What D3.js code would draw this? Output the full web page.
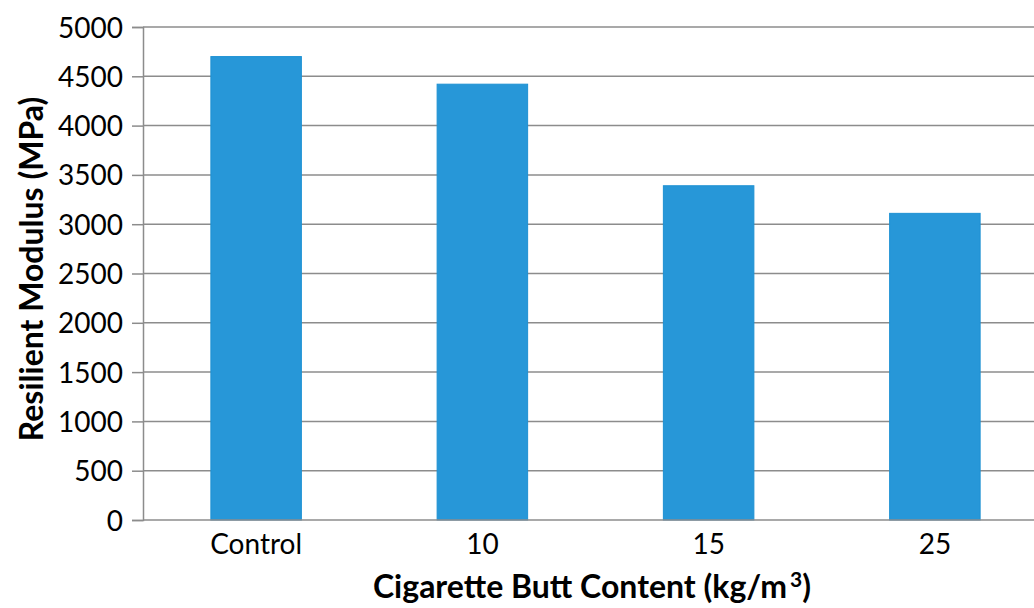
<!DOCTYPE html>
<html>
<head>
<meta charset="utf-8">
<script src="https://cdn.jsdelivr.net/npm/d3@7"></script>
<style>
  html, body { margin: 0; padding: 0; background: #ffffff; }
  svg { display: block; }
</style>
</head>
<body>
<svg id="chart" width="1034" height="608"></svg>
<script>
const categories = ["Control", "10", "15", "25"];
const values = [4700, 4420, 3390, 3110];
const yTicks = [0, 500, 1000, 1500, 2000, 2500, 3000, 3500, 4000, 4500, 5000];
const xTitleParts = ["Cigarette Butt Content (kg/m", "3", ")"];
const yTitle = "Resilient Modulus (MPa)";

(function () {
const svg = d3.select("#chart");
const W = 1034;
const mLeft = 143, mRight = 1048, mTop = 27, mBottom = 520;
const gridColor = "#8c8c8c";
const font = "Lato, 'Open Sans', sans-serif";

const x = d3.scaleBand().domain(categories).range([mLeft, mRight])
  .paddingInner(0.6).paddingOuter(0.3);
const y = d3.scaleLinear().domain([0, 5000]).range([mBottom, mTop]);

// gridlines + y ticks
const yAxis = d3.axisLeft(y).tickValues(yTicks).tickSize(11).tickPadding(9)
  .tickFormat(d3.format("d"));
const gy = svg.append("g").attr("transform", `translate(${mLeft},0)`).call(yAxis);
gy.select(".domain").attr("stroke", gridColor).attr("stroke-width", 1.5);
gy.selectAll(".tick line").attr("stroke", gridColor).attr("stroke-width", 1.5);
gy.selectAll(".tick text").attr("font-family", font).attr("font-size", 28)
  .attr("fill", "#000").attr("dy", "0.36em");

svg.append("g").selectAll("line.grid").data(yTicks.filter(d => d > 0)).join("line")
  .attr("x1", mLeft).attr("x2", W)
  .attr("y1", d => y(d)).attr("y2", d => y(d))
  .attr("stroke", gridColor).attr("stroke-width", 1.5);

// bars
svg.append("g").selectAll("rect").data(values).join("rect")
  .attr("x", (d, i) => x(categories[i]))
  .attr("width", x.bandwidth())
  .attr("y", d => y(d))
  .attr("height", d => y(0) - y(d))
  .attr("fill", "#2797d8")
  .attr("stroke", "#1e91d3").attr("stroke-width", 1);

// x axis
const xAxis = d3.axisBottom(x).tickSize(0).tickPadding(14);
const gx = svg.append("g").attr("transform", `translate(0,${mBottom})`).call(xAxis);
gx.select(".domain").remove();
gx.selectAll(".tick text").attr("font-family", font).attr("font-size", 28).attr("fill", "#000");
svg.append("line").attr("x1", mLeft).attr("x2", W).attr("y1", y(0)).attr("y2", y(0))
  .attr("stroke", gridColor).attr("stroke-width", 1.5);

// titles
const xt = svg.append("text").attr("x", 592).attr("y", 598).attr("text-anchor", "middle")
  .attr("font-family", font).attr("font-weight", "bold").attr("font-size", 32)
  .attr("fill", "#000");
xt.append("tspan").text(xTitleParts[0]);
xt.append("tspan").attr("font-size", 21).attr("dx", 3).attr("dy", -11).text(xTitleParts[1]);
xt.append("tspan").attr("dy", 11).text(xTitleParts[2]);

svg.append("text").attr("transform", "translate(43,269) rotate(-90)")
  .attr("text-anchor", "middle")
  .attr("font-family", font).attr("font-weight", "bold").attr("font-size", 32)
  .attr("fill", "#000").text(yTitle);
})();
</script>
</body>
</html>
